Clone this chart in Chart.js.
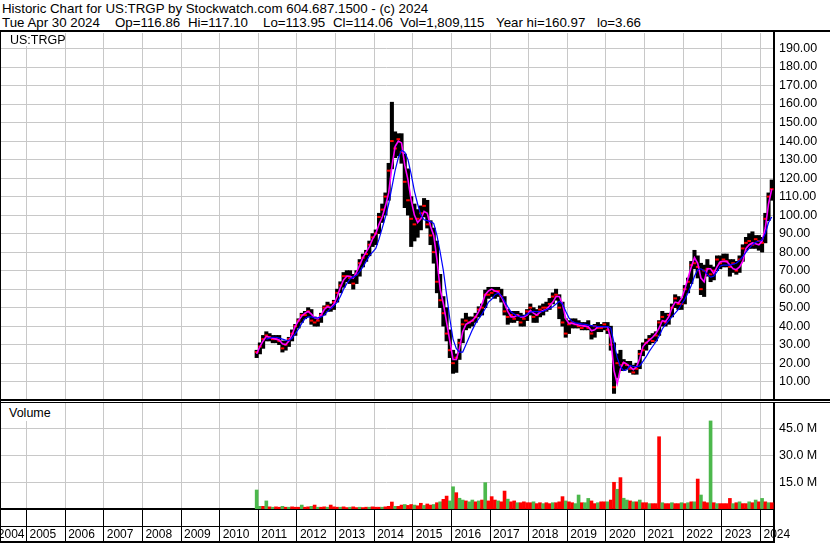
<!DOCTYPE html>
<html>
<head>
<meta charset="utf-8">
<script src="https://cdn.jsdelivr.net/npm/chart.js@4/dist/chart.umd.min.js"></script>
<style>
body { margin: 0; width: 830px; height: 543px; overflow: hidden; position: relative; background: #fff;
       font-family: "Liberation Sans", Arial, sans-serif; color: #000; }
.hd { position: absolute; font-size: 13.3px; line-height: 14px; white-space: pre; }
.ln { position: absolute; background: #000; }
.tag { position: absolute; background: #fff; font-size: 12.5px; line-height: 14px; white-space: pre; }
canvas { position: absolute; left: 0; }
</style>
</head>
<body>
<div class="hd" style="left:2px;top:2px">Historic Chart for US:TRGP by Stockwatch.com 604.687.1500 - (c) 2024</div>
<div class="hd" style="left:2px;top:16px">Tue Apr 30 2024</div>
<div class="hd" style="left:115px;top:16px">Op=116.86</div>
<div class="hd" style="left:188px;top:16px">Hi=117.10</div>
<div class="hd" style="left:263px;top:16px">Lo=113.95</div>
<div class="hd" style="left:333px;top:16px">Cl=114.06</div>
<div class="hd" style="left:400px;top:16px">Vol=1,809,115</div>
<div class="hd" style="left:496px;top:16px">Year hi=160.97</div>
<div class="hd" style="left:597px;top:16px">lo=3.66</div>

<canvas id="priceCanvas" width="830" height="368" style="top:32px"></canvas>
<canvas id="volCanvas" width="830" height="143" style="top:400px"></canvas>

<div class="tag" style="left:1px;top:33px;width:63px;height:13px"><span style="position:absolute;left:9px;top:0">US:TRGP</span></div>
<div class="tag" style="left:1px;top:403px;width:56px;height:18px"><span style="position:absolute;left:8px;top:3px">Volume</span></div>

<div class="ln" style="left:0;top:30px;width:830px;height:2px"></div>
<div class="ln" style="left:0;top:30px;width:1px;height:513px"></div>
<div class="ln" style="left:0;top:399px;width:830px;height:2px"></div>
<div class="ln" style="left:0;top:402px;width:830px;height:1px"></div>
<div class="ln" style="left:0;top:526px;width:775px;height:1px"></div>
<div class="ln" style="left:0;top:541px;width:775px;height:2px"></div>
<div class="ln" style="left:773px;top:509px;width:2px;height:34px"></div>

<script>
// monthly bars, first one is Dec 2010
const firstMonth = [2010, 12];

const high = [
  27,
  31, 35, 37, 36, 35, 35, 35, 32, 32, 34, 38, 41,
  44, 47, 48, 50, 49, 45, 44, 47, 51, 53, 52, 54,
  60, 64, 69, 70, 70, 68, 70, 76, 79, 81, 86, 90,
  92, 101, 106, 112, 128, 161, 145, 144, 144, 133, 125, 110,
  106, 103, 105, 109, 108, 97, 93, 86, 68, 56, 50, 38,
  27, 25, 33, 44, 47, 45, 45, 47, 50.5, 52, 59.5, 61,
  61, 61, 61, 60, 56, 49, 48, 48, 48, 47, 46, 49,
  52, 50, 49, 51, 52, 53, 55, 58, 60, 57, 53, 44,
  43, 44, 44, 43, 42, 42, 43, 40, 41, 42, 41, 42,
  42, 40, 31, 25, 27, 22, 21, 21, 19, 20, 27, 31,
  33, 35, 36, 37, 43, 48, 47, 47, 52, 57, 56, 55,
  62, 66, 75, 81, 78, 74, 73, 76, 73, 72, 78, 78,
  79, 79, 76, 76, 75, 78, 84, 88, 90, 91, 89, 89,
  88, 101, 112, 119
];
const low = [
  23,
  25, 28, 32, 32, 31, 31, 30, 26, 27, 29, 32, 35,
  39, 42, 44, 45, 41, 40, 40, 42, 46, 48, 48, 49,
  53, 58, 61, 64, 63, 60, 63, 67, 72, 75, 78, 83,
  84, 90, 96, 100, 108, 125, 131, 132, 128, 104, 100, 83,
  86, 88, 92, 99, 93, 84, 74, 58, 50, 40, 32, 23,
  14.5, 15, 22, 31, 38, 39, 40, 42, 45, 46, 50, 55,
  56, 55, 56, 53, 46, 41, 42, 42, 43, 40, 40, 43,
  46, 42, 42, 45, 46, 48, 49, 52, 54, 44, 40, 34,
  36, 39, 39, 39, 38, 38, 38, 33, 34, 37, 37, 38,
  36, 27, 3.66, 12, 16, 16, 17, 15, 14, 14, 17, 24,
  27, 30, 31, 32, 35, 40, 40, 41, 45, 50, 49, 49,
  52, 58, 63, 71, 66, 57, 56, 67, 64, 65, 70, 71,
  72, 72, 67, 69, 68, 69, 75, 81, 82, 82, 82, 81,
  80, 85, 97, 108
];
const close = [
  26,
  29, 33, 35, 34, 33, 33, 32, 28, 30, 33, 36, 40,
  43, 46, 46, 48, 43, 42, 43, 46, 50, 51, 50, 53,
  58, 62, 67, 67, 66, 63, 68, 74, 77, 79, 84, 88,
  90, 99, 103, 110, 124, 140, 136, 141, 134, 118, 108, 98,
  95, 98, 101, 105, 95, 89, 80, 64, 54, 47, 36, 27,
  20, 23, 31, 41, 43, 42, 43, 45, 49, 50, 57, 57,
  58, 59, 59, 56, 48, 45, 46, 44, 46, 42, 44, 48,
  50, 45, 46, 49, 50, 50, 52, 56, 57, 50, 42, 36,
  41, 42, 41, 40, 39, 40, 39, 36, 40, 39, 39, 41,
  38, 30, 7, 20, 19, 20, 19, 17, 15, 17, 25, 27,
  31, 33, 32, 35, 42, 45, 42, 46, 50, 55, 52, 52,
  60, 64, 73, 74, 72, 60, 70, 71, 68, 70, 76, 74,
  76, 75, 72, 74, 70, 76, 82, 85, 86, 84, 87, 86,
  85, 98, 110, 114
];
// short moving average (magenta)
const maShort = [
  25,
  29, 32, 34.5, 34, 33.5, 33, 32.5, 30.5, 30, 32, 35.5, 40,
  43, 45.5, 47, 48, 46.5, 44.5, 44, 46, 49, 50.5, 50, 52,
  56, 61, 65, 67, 67, 66, 69, 73, 77, 80, 83, 87,
  90, 95, 99, 105, 112, 126, 137, 140, 139, 127, 119, 108,
  100, 96, 98, 102, 101, 94, 89, 76, 60, 52, 42, 32,
  22, 22, 28, 37, 41, 42, 43, 45, 48, 52, 57, 59,
  60, 59, 58.5, 56, 52, 48, 45, 45, 46, 45, 45, 46,
  48.5, 47, 46, 47.5, 48.5, 49, 51, 53, 56, 56, 52, 44,
  41.5, 41.5, 41, 40.6, 40.3, 40, 39.7, 37.5, 38, 39.7, 39.7, 39.7,
  39.7, 33, 16, 9, 17, 20.5, 19.5, 18, 16.5, 18, 22.5, 29,
  31, 32.5, 34, 36, 39, 43, 42.5, 45, 50, 53, 52.5, 55,
  60, 66, 72, 77, 74, 66, 64, 71, 71, 68.5, 72, 74.8,
  75, 75, 73, 71, 70.5, 72, 75, 82, 84, 85, 84.5, 84,
  86, 93, 106, 114
];
// long moving average (blue), starts Mar 2011
const maLongStart = 3;
const maLong = [
  33, 33.5, 34, 34, 33.5, 33, 32.5, 32.3, 33.5, 36,
  38.5, 41.5, 44, 45, 45, 44.5, 44.5, 45, 46, 48, 49.5, 51,
  53, 56, 60, 63, 65.5, 66.5, 67.5, 69.5, 72, 75, 78, 80,
  82, 87, 93, 99, 106, 115, 124, 131, 135, 134, 130, 122,
  113, 106, 100, 97.5, 97, 96.5, 95.5, 89, 80, 70, 57, 44,
  33, 28, 26, 26, 30, 34, 38, 41.5, 44, 46.5, 49.5, 53,
  54.5, 57, 57.8, 56.5, 53.5, 50.5, 47.8, 46.5, 45.5, 45.3, 45.5, 46.5,
  47.5, 48, 47.8, 47.8, 48, 49, 49.6, 50.5, 52, 53.5, 52, 48,
  44.5, 42.5, 41.8, 41.5, 41.2, 41, 40.6, 40.3, 40, 39.8, 39.7, 39.7,
  39.7, 39, 31, 23, 18, 16, 16.5, 18.8, 18.2, 18.1, 18.5, 21,
  23.5, 26.5, 29, 31.5, 34.5, 38.5, 41, 43, 45, 47, 49, 52,
  54.5, 58, 62, 67, 70.5, 71, 70, 68, 66.5, 67, 69.5, 72.5,
  73, 73, 73, 73.5, 74, 75.5, 77.5, 80, 82, 84, 85.3, 86,
  86.5, 90, 96, 99
];
// volume in millions, 1 = up (green), 0 = down (red)
const volume = [
  10.6,
  1.5, 1.5, 4.5, 1.2, 1, 1.2, 1, 1.5, 1, 1, 1.2, 1,
  1, 2.2, 1, 1.2, 1.5, 2.2, 1, 1, 1.2, 1, 2.2, 1.2,
  1, 1, 1.2, 0.8, 1, 1.2, 0.8, 1, 0.8, 1, 1, 1.2,
  1, 1, 1, 1.2, 1.5, 3.9, 1.5, 1.5, 2.2, 2.5, 2, 2.5,
  2.2, 1.8, 3.2, 2, 2.8, 2.2, 2.5, 3.5, 4, 5.4, 7.2, 4.5,
  12.4, 9.1, 6, 5, 4.5, 4, 5, 4, 4.5, 5, 14.7, 4.5,
  6.9, 5, 4.5, 4, 10, 5.5, 4, 4.5, 3.5, 3.5, 4, 3.5,
  3.5, 4, 3, 3.5, 3, 3.5, 3, 3.5, 3.5, 4, 6.9, 4.5,
  4, 3.5, 3, 7.8, 3.5, 3.5, 5.9, 4.5, 3, 3.5, 4, 4,
  4, 5, 14.9, 11, 17.5, 6, 5, 4.5, 4, 4, 5, 3.5,
  3.5, 3, 3, 3, 40.3, 3.5, 3, 3, 3.5, 3, 3, 3.5,
  3, 3.5, 4, 4, 16.7, 7.8, 4, 3.5, 49.1, 3.5, 3, 3,
  3, 3, 5.9, 3, 3.5, 4, 3, 3, 4, 3.5, 5, 4,
  5.9, 4, 3.5, 3.5
];
const volUp = [
  1,
  1, 0, 1, 0, 1, 0, 0, 1, 0, 1, 0, 0,
  0, 1, 0, 0, 1, 0, 1, 0, 0, 1, 0, 0,
  0, 1, 0, 0, 1, 0, 0, 1, 0, 0, 1, 0,
  0, 0, 1, 0, 0, 0, 1, 0, 0, 1, 0, 0,
  1, 0, 0, 1, 0, 0, 1, 0, 1, 0, 0, 1,
  1, 0, 1, 1, 0, 1, 1, 0, 1, 0, 1, 0,
  0, 0, 1, 0, 0, 1, 0, 0, 1, 0, 0, 0,
  0, 1, 0, 0, 1, 0, 0, 1, 0, 0, 0, 1,
  0, 0, 1, 1, 0, 1, 1, 0, 0, 1, 0, 0,
  1, 0, 0, 1, 0, 1, 1, 0, 1, 0, 1, 0,
  0, 1, 0, 0, 0, 1, 0, 0, 1, 0, 0, 1,
  0, 1, 0, 1, 0, 1, 0, 0, 1, 0, 1, 0,
  0, 0, 0, 1, 0, 1, 0, 0, 1, 0, 1, 0,
  1, 0, 1, 0
];
const years = [2005, 2006, 2007, 2008, 2009, 2010, 2011, 2012, 2013, 2014,
               2015, 2016, 2017, 2018, 2019, 2020, 2021, 2022, 2023, 2024];
const priceTicks = [10, 20, 30, 40, 50, 60, 70, 80, 90, 100, 110, 120, 130, 140, 150, 160, 170, 180, 190];
const volTicks = [15, 30, 45];

// visible time window (fraction of years)
const xMin = 2004.314, xMax = 2024.35;
const firstLabelAt = 2004.18;

function monthTime(i) {
  const m = firstMonth[1] - 1 + i;
  return firstMonth[0] + Math.floor(m / 12) + ((m % 12) + 0.5) / 12;
}

// keep the plot area fixed: no extra room for edge labels
function noPad(s) {
  s.paddingTop = 0; s.paddingBottom = 0; s.paddingLeft = 0; s.paddingRight = 0;
}

Chart.defaults.font.family = '"Liberation Sans", Arial, sans-serif';
Chart.defaults.font.size = 12.5;
Chart.defaults.color = '#000';

const gridGray = '#c8c8c8';

const barData = high.map((h, i) => ({ x: monthTime(i), y: [low[i], h] }));
const closeData = close.map((c, i) => ({ x: monthTime(i), y: c }));
const shortData = maShort.map((v, i) => ({ x: monthTime(i), y: v }));
const longData = maLong.map((v, i) => ({ x: monthTime(i + maLongStart), y: v }));

new Chart(document.getElementById('priceCanvas'), {
  type: 'bar',
  data: {
    datasets: [
      { type: 'bar', data: barData, backgroundColor: '#000', barThickness: 3.4, order: 4 },
      { type: 'line', data: closeData, showLine: false, pointStyle: 'line', pointRadius: 1.8,
        pointBorderWidth: 2, pointBorderColor: '#ff0000', order: 3 },
      { type: 'line', data: shortData, borderColor: '#ff00ff', borderWidth: 1.6, pointRadius: 0, order: 2 },
      { type: 'line', data: longData, borderColor: '#0000ff', borderWidth: 1.2, pointRadius: 0, order: 1 }
    ]
  },
  options: {
    responsive: false,
    animation: false,
    devicePixelRatio: 1,
    layout: { autoPadding: false, padding: { top: 1, bottom: 1, left: 0, right: 0 } },
    plugins: { legend: { display: false }, tooltip: { enabled: false } },
    scales: {
      x: {
        type: 'linear', min: xMin, max: xMax, offset: false,
        afterBuildTicks: s => { s.ticks = years.map(v => ({ value: v })); },
        afterFit: s => { s.height = 0; noPad(s); },
        grid: { color: gridGray, offset: false, drawTicks: false },
        border: { display: false },
        ticks: { display: false }
      },
      y: {
        position: 'right', min: 0.65, max: 198.38,
        afterBuildTicks: s => { s.ticks = priceTicks.map(v => ({ value: v })); },
        afterFit: s => { s.width = 56; noPad(s); },
        grid: { color: gridGray, drawTicks: false },
        border: { color: '#000', width: 2 },
        ticks: { padding: 5, callback: v => v.toFixed(2) }
      }
    }
  }
});

new Chart(document.getElementById('volCanvas'), {
  type: 'bar',
  data: {
    datasets: [{
      data: volume.map((v, i) => ({ x: monthTime(i), y: v })),
      backgroundColor: volUp.map(u => u ? '#4cb84c' : '#ff0000'),
      barThickness: 3
    }]
  },
  options: {
    responsive: false,
    animation: false,
    devicePixelRatio: 1,
    layout: { autoPadding: false, padding: { top: 3, bottom: 0, left: 0, right: 0 } },
    plugins: { legend: { display: false }, tooltip: { enabled: false } },
    scales: {
      x: {
        type: 'linear', min: xMin, max: xMax, offset: false,
        afterBuildTicks: s => {
          s.ticks = [{ value: firstLabelAt }].concat(years.map(v => ({ value: v })));
        },
        afterFit: s => { s.height = 34; noPad(s); },
        grid: { color: gridGray, offset: false, tickColor: '#000', tickLength: 34 },
        border: { color: '#000', width: 2 },
        ticks: {
          autoSkip: false, maxRotation: 0, align: 'start', labelOffset: 3, padding: -16,
          font: { size: 12 },
          callback: v => v === firstLabelAt ? '2004' : String(v)
        }
      },
      y: {
        position: 'right', min: 0, max: 59.1,
        afterBuildTicks: s => { s.ticks = volTicks.map(v => ({ value: v })); },
        afterFit: s => { s.width = 56; noPad(s); },
        grid: { color: gridGray, drawTicks: false },
        border: { color: '#000', width: 2 },
        ticks: { padding: 5, callback: v => v.toFixed(1) + ' M' }
      }
    }
  }
});
</script>
</body>
</html>
